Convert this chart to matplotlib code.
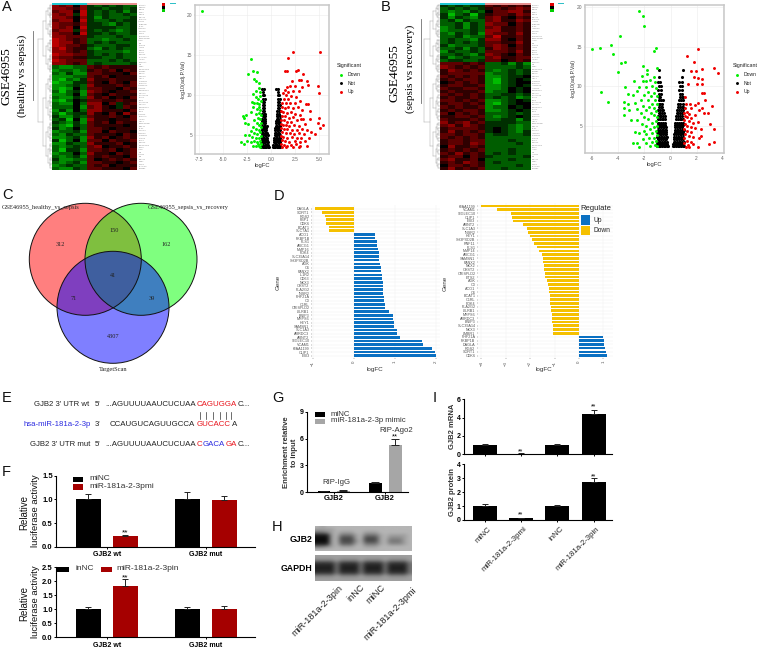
import matplotlib
matplotlib.use('Agg')
import matplotlib.pyplot as plt
import numpy as np
from matplotlib.colors import LinearSegmentedColormap
from matplotlib.patches import Circle, Rectangle

W, H = 760, 650
plt.rcParams['font.family'] = ['Liberation Sans', 'DejaVu Sans']

# heatmaps, one digit per cell: 0 bright green, 4 black, 8 bright red
heat_a = [
    "767473232322", "776573323323", "677483232313", "767383232232", "776473132223",
    "677483223233", "766573321323", "767483333223", "677373232123", "766483323223",
    "776663222322", "876562212232", "877562323222", "876653222332", "786552132322",
    "776563222212", "877663232322", "766553322322", "876662223232", "776562322223",
    "211226565555", "122125656465", "213116655546", "111226564555", "102137556555",
    "011336546546", "112327555656", "101426655465", "202317654556", "112416546555",
    "211327564546", "102436655655", "211427746356", "222416754365", "131427755546",
    "202337546475", "311326556546", "230417554556", "321316564655", "210326555545",
    "312426654555", "122316646554", "213226555465", "112317564565", "302416646556",
    "113227555645", "212326745565", "203316656456", "122427554656", "212316565546",
    "311226456565", "212316655456", "123226564555", "211326655546",
]
heat_b = [
    "323233656565", "232323565676", "212132466775", "302303566576", "313213675465",
    "231322675576", "223132766465", "123132675565", "122232775565", "213231766575",
    "223122685565", "232213775465", "232323665575", "312223676465", "223132576565",
    "132232666575", "223213765465", "312322675566", "233223664565",
    "666565223131", "765656222232", "576565212323", "566666122323", "656565112334",
    "565665102343", "456565102344", "566556112343", "655665112434", "565556122434",
    "656565223323", "565565232312", "665656112343", "566565102344", "656556122434",
    "565665112343", "646565222323", "556656212343", "655565223313",
    "756756333322", "675765333212", "566665343212", "575656343213", "665665233223",
    "656565222222", "566566222322", "566576222232", "475565222222", "565656222322",
    "657565232322", "566465322223", "675564222322", "565765232222", "466565222232",
    "575656223222",
]
heat_split = [5, 6]

# volcano A: (logFC, -log10 adj.P.Val)
a_down = [(-7.11, 20.5), (-2.07, 14.5), (-2.42, 12.7), (-1.9, 13), (-1.48, 12.9), (-1.73, 12),
          (-1.59, 11.8), (-1.2, 11.6), (-1.55, 10.6), (-1.3, 10.9), (-1.1, 10.4), (-1.9, 10.2),
          (-1.6, 9.8), (-1.35, 9.6), (-1.15, 9.9), (-2.0, 9.2), (-1.75, 9.0), (-1.45, 9.1),
          (-1.2, 8.9), (-1.05, 9.3), (-1.85, 8.5), (-1.5, 8.3), (-1.3, 8.5), (-1.1, 8.2),
          (-2.05, 7.9), (-1.6, 7.7), (-1.25, 7.8), (-1.05, 7.6), (-2.9, 7.4), (-2.85, 7.2),
          (-2.6, 7.5), (-1.4, 7.2), (-1.15, 7.0), (-1.75, 6.9), (-1.05, 6.6), (-2.7, 6.6),
          (-2.35, 6.4), (-1.5, 6.5), (-1.25, 6.3), (-1.0, 6.1), (-1.9, 6.0), (-1.6, 5.8),
          (-1.3, 5.6), (-1.1, 5.4), (-1.45, 5.1), (-1.75, 5.3), (-2.1, 5.5), (-1.05, 4.9),
          (-1.3, 4.7), (-1.6, 4.6), (-2.0, 4.8), (-2.3, 5.0), (-2.7, 5.0), (-1.15, 4.3),
          (-1.45, 4.2), (-1.8, 4.3), (-2.1, 4.1), (-3.1, 4.2), (-2.8, 3.9), (-2.5, 4.3),
          (-1.05, 3.9), (-1.3, 3.6), (-1.6, 3.7), (-1.1, 3.5), (-1.4, 3.9), (-1.85, 3.6)]
a_up = [(2.24, 15.4), (5.07, 15.4), (1.73, 14.7), (1.62, 13), (1.45, 13), (2.55, 13.1), (2.83, 13.2),
        (3.35, 12.7), (2.14, 11.8), (2.9, 11.9), (3.1, 11.9), (3.7, 11.8), (4.9, 11.2), (5.0, 10.3),
        (3.87, 11.3), (2.5, 11.2), (1.95, 11.2), (3.2, 11), (1.6, 11), (1.4, 10.7), (1.8, 10.4),
        (2.3, 10.6), (2.9, 10.5), (1.2, 10.3), (1.5, 10), (2.1, 9.9), (1.3, 9.6), (1.75, 9.5),
        (2.6, 9.8), (3.0, 9.3), (1.15, 9.1), (1.55, 9), (2.0, 9.1), (2.45, 9), (3.87, 8.9), (3.65, 8.9),
        (1.1, 8.6), (1.4, 8.4), (1.8, 8.5), (2.25, 8.4), (2.8, 8.6), (3.2, 8.2), (4.0, 8), (1.05, 8),
        (1.25, 7.9), (1.65, 7.8), (2.05, 7.9), (2.5, 7.7), (1.1, 7.4), (1.45, 7.4), (1.85, 7.2),
        (2.3, 7.3), (3.0, 7.5), (5.0, 7.2), (1.05, 6.9), (1.3, 6.9), (1.65, 6.7), (2.1, 6.7),
        (2.65, 6.9), (3.1, 7), (3.3, 7.1), (4.04, 7), (4.83, 6.6), (1.0, 6.4), (1.2, 6.3), (1.5, 6.3),
        (1.9, 6.2), (2.4, 6.3), (2.9, 6.2), (3.5, 6.4), (5.42, 6.25), (5.07, 5.9), (1.05, 5.9),
        (1.35, 5.8), (1.7, 5.8), (2.15, 5.7), (2.65, 5.6), (3.2, 5.8), (3.75, 5.7), (1.1, 5.4),
        (1.5, 5.3), (1.95, 5.3), (2.4, 5.2), (2.9, 5.3), (3.4, 5.2), (4.1, 5.4), (4.5, 5.2), (1.0, 4.9),
        (1.25, 4.8), (1.7, 4.7), (2.2, 4.8), (2.7, 4.7), (3.15, 4.6), (3.9, 4.7), (1.1, 4.4), (1.45, 4.3),
        (1.9, 4.2), (2.45, 4.3), (2.95, 4.2), (3.5, 4.3), (1.0, 3.9), (1.3, 3.8), (1.65, 3.7), (2.1, 3.8),
        (2.6, 3.9), (3.0, 3.6), (3.75, 3.6), (1.15, 3.5), (1.55, 3.5), (2.25, 3.5), (2.85, 3.5)]
# black cloud, x values per -log10 level
a_not = {
    3.5: [-1.0, -.87, -.74, -.61, -.48, -.36, -.24, .2, .32, .45, .58, .71, .84, .97],
    3.8: [-.97, -.82, -.68, -.54, -.42, -.29, .25, .38, .51, .65, .78, .92],
    4.1: [-1.0, -.86, -.72, -.58, -.45, -.32, .28, .41, .55, .69, .83, .97],
    4.4: [-.95, -.8, -.66, -.52, -.38, .31, .45, .6, .74, .88],
    4.7: [-.98, -.84, -.7, -.56, -.42, .34, .48, .63, .78, .94],
    5.0: [-.94, -.8, -.65, -.5, -.37, .36, .51, .66, .81, .96],
    5.3: [-.97, -.83, -.68, -.53, -.4, .4, .55, .7, .85],
    5.6: [-.92, -.78, -.63, -.48, .42, .57, .72, .88],
    5.9: [-.95, -.8, -.66, -.5, .44, .6, .75, .93],
    6.2: [-.9, -.76, -.61, -.47, .5, .65, .8, .97],
    6.5: [-.93, -.78, -.63, .52, .67, .83],
    6.8: [-.9, -.74, -.58, .55, .7, .88],
    7.1: [-.92, -.77, -.62, .58, .74, .93],
    7.4: [-.88, -.72, -.58, .6, .76, .9],
    7.7: [-.9, -.75, -.62, .62, .79],
    8.0: [-.86, -.71, .65, .82, .97],
    8.4: [-.88, -.73, .68, .85],
    8.8: [-.85, -.7, .7, .88],
    9.2: [-.87, -.72, .72, .85],
    9.6: [-.82, -.68, .74, .9],
    10.0: [-.85, -.73, .72, .82],
    10.4: [-.8, .76],
    10.8: [-.95, -.78, .5, .75],
}

# volcano B
b_down = [(-2.4, 19.45), (-2.1, 18.9), (-2.02, 17.65), (-3.84, 16.3), (-4.53, 15.2), (-5.4, 14.8),
          (-6.04, 14.7), (-4.45, 14), (-1.13, 14.8), (-1.28, 14.5), (-3.5, 13.1), (-3.8, 12.9),
          (-2.15, 12.6), (-4, 11.8), (-1.07, 12.3), (-1.8, 12), (-1.84, 11.5), (-2.2, 11.3),
          (-1.28, 11.2), (-2.8, 10.6), (-2.1, 10.6), (-1.85, 10.7), (-3.5, 9.9), (-5.37, 9.25),
          (-3.3, 8.95), (-4.8, 8), (-3.55, 8), (-3.25, 7.7), (-3.6, 7.2), (-3.2, 7), (-3.55, 6.3),
          (-3, 5.7), (-2.75, 4.2), (-2.4, 4.1), (-2.55, 2.8), (-2.85, 2.85), (-2.4, 2.3),
          (-1.6, 10.8), (-1.2, 10.5), (-2.4, 9.9), (-1.9, 9.9), (-1.4, 10), (-1.1, 9.8), (-2.6, 9.4),
          (-1.7, 9.3), (-1.25, 9.2), (-2.9, 8.9), (-2.0, 8.9), (-1.5, 8.8), (-1.05, 8.7), (-2.3, 8.3),
          (-1.75, 8.3), (-1.2, 8.2), (-2.7, 7.9), (-1.45, 7.8), (-1.05, 7.7), (-2.1, 7.5), (-1.65, 7.4),
          (-1.25, 7.3), (-2.55, 7.1), (-1.9, 7), (-1.1, 6.9), (-2.25, 6.6), (-1.5, 6.6), (-1.3, 6.3),
          (-1.05, 6.1), (-2.0, 6.1), (-2.6, 5.7), (-1.7, 5.8), (-1.15, 5.6), (-1.45, 5.4), (-2.2, 5.2),
          (-1.85, 5), (-1.05, 5), (-1.3, 4.8), (-1.6, 4.6), (-2.05, 4.4), (-1.15, 4.3), (-1.45, 4.1),
          (-1.85, 3.9), (-1.05, 3.8), (-1.3, 3.5), (-1.65, 3.4), (-2.1, 3.3), (-1.1, 3.1), (-1.45, 2.9),
          (-1.85, 2.8), (-1.2, 2.6), (-1.6, 2.4), (-1.05, 2.4)]
b_up = [(1.3, 13.75), (2.12, 14.65), (1.82, 13), (2.45, 12.2), (3.35, 12.3), (3.66, 11.6), (1.6, 11.9),
        (1.95, 11.9), (1.8, 11.1), (2.1, 11), (2.4, 10.9), (1.35, 10.3), (2, 10.3), (2.45, 10.3),
        (2.4, 9.1), (2.55, 9.1), (1.1, 8.65), (2.63, 8.2), (3.2, 7.5), (2.4, 7.3), (2.9, 6.55), (3, 5.2),
        (3.3, 4.65), (3.35, 2.9), (2.95, 2.7), (2.1, 2.35), (2.2, 3.4), (1.5, 7.8), (1.2, 7.8), (1.85, 7.6),
        (2.1, 7.9), (1.1, 7.3), (1.6, 7.2), (2.2, 7), (1.25, 6.8), (1.05, 6.6), (1.45, 6.5), (1.85, 6.4),
        (2.55, 6.6), (1.1, 6.2), (1.3, 6.1), (1.6, 6), (1.05, 5.7), (1.4, 5.6), (1.7, 5.4), (2.1, 5.5),
        (1.1, 5.2), (1.3, 5), (1.55, 4.9), (1.9, 4.7), (2.35, 4.6), (1.05, 4.6), (1.25, 4.3), (1.6, 4.2),
        (1.1, 4), (1.4, 3.7), (1.75, 3.6), (2.35, 3.7), (1.05, 3.4), (1.3, 3.1), (1.55, 3), (1.05, 2.8),
        (1.35, 2.6), (1.7, 2.7), (1.15, 2.35), (1.45, 2.3)]
b_not = {
    2.4: [-1.05, -.92, -.79, -.66, -.53, -.4, -.28, -.17, .18, .3, .42, .55, .68, .81, .94, 1.02],
    2.7: [-1.0, -.87, -.74, -.61, -.48, -.36, -.24, .22, .34, .47, .6, .73, .86, .98],
    3.0: [-1.04, -.91, -.78, -.65, -.52, -.39, -.27, .25, .37, .5, .63, .76, .89, 1.0],
    3.3: [-.98, -.85, -.72, -.59, -.46, -.33, .27, .4, .53, .66, .79, .92],
    3.6: [-1.02, -.89, -.76, -.63, -.5, -.37, -.28, .28, .42, .55, .68, .81, .95],
    3.9: [-.97, -.84, -.71, -.58, -.45, -.32, .3, .44, .57, .7, .83, .97],
    4.2: [-1.0, -.87, -.74, -.61, -.48, -.35, .31, .45, .59, .72, .86, .99],
    4.5: [-.95, -.82, -.69, -.56, -.43, -.31, .33, .47, .61, .75, .89, 1.0],
    4.8: [-.99, -.86, -.73, -.6, -.47, -.34, .34, .48, .62, .76, .9],
    5.1: [-.94, -.81, -.68, -.55, -.42, .36, .5, .64, .78, .93],
    5.4: [-.98, -.85, -.72, -.59, -.46, .37, .52, .66, .8, .96],
    5.8: [-.93, -.8, -.67, -.54, -.41, .4, .55, .69, .84, .98],
    6.2: [-.96, -.83, -.7, -.57, -.44, .43, .58, .72, .87],
    6.6: [-.92, -.79, -.66, -.53, .46, .6, .75, .9, .99],
    7.0: [-.95, -.82, -.68, -.54, .5, .65, .8, .95],
    7.4: [-.9, -.76, -.62, .55, .7, .85, .98],
    7.8: [-.92, -.78, -.64, .6, .75, .92],
    8.2: [-.88, -.74, -.6, .65, .8, .97],
    8.6: [-.9, -.78, .7, .85, .95],
    9.0: [-.85, -.72, .7, .88],
    9.5: [-.95, -.75, .68, .85],
    10.0: [-.85, -.7, .7, .9],
    10.5: [-.95, -.8, .65, .85],
    11.2: [-.85, .9],
    12.0: [-.88, .95],
}

# venn counts
venn_counts = ["312", "150", "162", "41", "71", "39", "4307"]
venn_names = ["GSE46955_healthy_vs_sepsis", "GSE46955_sepsis_vs_recovery", "TargetScan"]

# gene bars, top to bottom
genes_left = ["DAGLA", "SORT1", "RGS2", "FBP1", "CDK6", "BCAT1", "SLC7A1", "ACO1", "FKBP1B", "PLS1",
              "ABCG1", "MMP16", "PDK4", "SLC39A14", "SH3PXD2B", "AGK", "C6", "PANX2", "IL1R2", "CD63",
              "NKX3", "CHST2", "PLA2G2", "INSR2", "PHF21A", "C3", "C1RL", "CRISPLD2", "LILRB1",
              "BNIP3", "MRPS6", "HEY1", "SAMSN1", "SLC1A3", "ARRDC3", "ARNT2", "SIGLEC10", "VCAM1",
              "KIAA1199", "CLIP1", "EBI3"]
fc_left = [-0.96, -0.78, -0.70, -0.69, -0.68, -0.61, -0.61,
           0.52, 0.52, 0.55, 0.57, 0.58, 0.61, 0.61, 0.62, 0.63, 0.65, 0.65, 0.68, 0.69, 0.70,
           0.70, 0.71, 0.72, 0.73, 0.74, 0.75, 0.76, 0.86, 0.94, 0.95, 0.97, 0.98, 1.04, 1.06,
           1.12, 1.65, 1.68, 1.90, 1.98, 2.01]
genes_right = ["KIAA1199", "VCAM1", "SIGLEC10", "CLIP1", "EBI3", "ARNT2", "SLC1A3", "INSR2", "HEY1",
               "SH3PXD2B", "RNF11", "PLS1", "MMP14", "ABCG1", "SAMSN1", "PANX2", "NKX2", "CHST2",
               "CRISPLD2", "ETS2", "AGK", "C3", "ACO1", "C6", "BCAT1", "C1RL", "PDK4", "PLA2G2",
               "LILRB1", "MRPS6", "ARRDC3", "BNIP3", "SLC39A14", "NKX3", "LMBR1", "PHF21A", "FKBP1B",
               "DAGLA", "RGS2", "SORT1", "CDK6"]
fc_right = [-4.0, -3.37, -2.79, -2.75, -2.69, -2.3, -2.12, -2.09, -2.0, -1.91, -1.84, -1.73, -1.64,
            -1.52, -1.46, -1.46, -1.45, -1.43, -1.41, -1.39, -1.32, -1.28, -1.25, -1.22, -1.19, -1.18,
            -1.18, -1.17, -1.13, -1.12, -1.11, -1.11, -1.08, -1.07, -1.05,
            1.0, 1.02, 1.02, 1.07, 1.09, 1.13]

# luciferase F
f_groups = ["GJB2 wt", "GJB2 mut"]
f_top = [1.0, 0.22, 1.0, 0.99]
f_top_err = [0.11, 0.03, 0.15, 0.09]
f_bottom = [1.0, 1.84, 1.0, 1.02]
f_bottom_err = [0.1, 0.23, 0.1, 0.09]

# RIP G
g_values = [0.1, 0.2, 1.0, 5.3]
g_err = [0.03, 0.05, 0.15, 0.6]

# western blots H, digit is grey level 0 dark to 9 light
blot_gjb2 = [
    "87888888888888888888", "77778888888888888888", "55678777887778888888",
    "11178555785557877778", "00078333783337866678", "00078333683337855578",
    "11178444785557866678", "55678777887778888888", "88888888888888888888",
]
blot_gapdh = [
    "77777777777777777777", "66667666676666766667", "22225222252222522225", "11115111151111511115",
    "11115111151111511115", "22225222252222522225", "66667666676666766667", "77777777777777777777",
]
h_labels = ["miR-181a-2-3pin", "inNC", "miNC", "miR-181a-2-3pmi"]

# qPCR / protein I
i_labels = ["miNC", "miR-181a-2-3pmi", "inNC", "miR-181a-2-3pin"]
i_mrna = [1.0, 0.08, 0.98, 4.36]
i_mrna_err = [0.1, 0.03, 0.1, 0.44]
i_protein = [1.0, 0.12, 1.0, 2.73]
i_protein_err = [0.15, 0.03, 0.07, 0.27]

fig = plt.figure(figsize=(W / 100, H / 100), dpi=100)
ov = fig.add_axes([0, 0, 1, 1], zorder=10)
ov.set_xlim(0, W)
ov.set_ylim(H, 0)
ov.axis('off')
ov.patch.set_alpha(0)


def add_px(x0, y0, x1, y1):
    return fig.add_axes([x0 / W, 1 - y1 / H, (x1 - x0) / W, (y1 - y0) / H])


def tree(y0, y1, x, xend, depth):
    # rough dendrogram, split a row range in two until it gets small
    if depth == 0:
        ov.plot([x, xend], [(y0 + y1) / 2] * 2, color='#9a9a9a', lw=0.25)
        return
    ym = y0 + (y1 - y0) * (0.5 if depth % 2 else 0.42)
    a, b = (y0 + ym) / 2, (ym + y1) / 2
    xn = x + (xend - x) * 0.35
    ov.plot([x, x], [a, b], color='#9a9a9a', lw=0.3)
    ov.plot([x, xn], [a, a], color='#9a9a9a', lw=0.3)
    ov.plot([x, xn], [b, b], color='#9a9a9a', lw=0.3)
    tree(y0, ym, xn, xend, depth - 1)
    tree(ym, y1, xn, xend, depth - 1)


heat_cmap = LinearSegmentedColormap.from_list('gbr', ['#00ff00', '#000000', '#ff0000'])


def heatmap(rows, box, split, tree_x, names_x, line_x, line_y):
    x0, y0, x1, y1 = box
    ax = add_px(x0, y0, x1, y1)
    grid = np.array([[int(c) for c in r] for r in rows])
    ax.imshow(grid, cmap=heat_cmap, vmin=-1.5, vmax=9.5, aspect='auto', interpolation='nearest')
    ax.axis('off')
    xs = x0 + (x1 - x0) * split / grid.shape[1]
    ov.add_patch(Rectangle((x0, y0 - 1), xs - x0, 1.5, color='#20c8d0', lw=0))
    ov.add_patch(Rectangle((xs, y0 - 1), x1 - xs, 1.5, color='#e89090', lw=0))
    tree(y0, y1, tree_x, x0, 6)
    ov.plot([line_x, line_x], line_y, color='#707070', lw=0.6)
    all_genes = genes_left + genes_right
    for k in range(70):
        ov.text(names_x, y0 + (y1 - y0) * (k + 0.5) / 70, all_genes[k % len(all_genes)],
                fontsize=1.6, color='#8c8c8c', va='center', ha='left')


heatmap(heat_a, (52, 4, 137, 170), heat_split[0], 38, 138.5, 33, (31, 100))
heatmap(heat_b, (440, 4, 530.7, 170), heat_split[1], 424, 532, 420.7, (19, 103))

# small colour keys of the heatmaps
for kx, ky in [(161.5, 3), (550, 3)]:
    ov.add_patch(Rectangle((kx, ky), 3.5, 3, color='#e00000', lw=0))
    ov.add_patch(Rectangle((kx, ky + 3), 3.5, 3, color='#000000', lw=0))
    ov.add_patch(Rectangle((kx, ky + 6), 3.5, 3, color='#00d000', lw=0))
    ov.add_patch(Rectangle((kx + 8, ky), 6, 1, color='#30c0c8', lw=0))


def volcano(box, xlim, ylim, xticks, xtick_labels, down, up, notsig):
    ax = add_px(*box)
    ax.set_xlim(*xlim)
    ax.set_ylim(*ylim)
    nx = [x for y, xs in notsig.items() for x in xs]
    ny = [y for y, xs in notsig.items() for x in xs]
    ax.scatter(nx, ny, s=5, color='black', lw=0, zorder=3)
    ax.scatter(*zip(*down), s=4.5, color='#00ee00', lw=0, zorder=3)
    ax.scatter(*zip(*up), s=4.5, color='#f00000', lw=0, zorder=3)
    ax.set_xticks(xticks)
    ax.set_xticklabels(xtick_labels)
    ax.set_yticks([5, 10, 15, 20])
    ax.grid(color='#ececec', lw=0.4)
    ax.set_axisbelow(True)
    ax.tick_params(labelsize=3.5, length=1, width=0.3, pad=1, colors='#666666')
    ax.set_xlabel('logFC', fontsize=4.2, labelpad=1, color='#333333')
    ax.set_ylabel('-log10(adj.P.Val)', fontsize=3.8, labelpad=1, color='#333333')
    for s in ax.spines.values():
        s.set_color('#c8c8c8')
        s.set_linewidth(1.1)
    return ax


volcano((195, 5, 329, 154), (-7.88, 6.0), (2.66, 21.3), [-7.5, -5, -2.5, 0, 2.5, 5],
        ['-7.5', '-5.0', '-2.5', '0.0', '2.5', '5.0'], a_down, a_up, a_not)
volcano((585, 5, 724, 153), (-6.56, 4.1), (1.56, 20.25), [-6, -4, -2, 0, 2, 4],
        ['-6', '-4', '-2', '0', '2', '4'], b_down, b_up, b_not)

for lx in [337, 733]:
    ov.text(lx, 66, 'Significant', fontsize=3.9, va='center', color='#222222')
    for yy, name, col in [(75, 'Down', '#00ee00'), (83.3, 'Not', 'black'), (91.7, 'Up', '#f00000')]:
        ov.scatter([lx + 4], [yy], s=4.5, color=col, lw=0)
        ov.text(lx + 10.5, yy, name, fontsize=3.6, va='center', color='#222222')

# side titles
serif = ['Liberation Serif', 'DejaVu Serif']
ov.text(7, 76, 'GSE46955', fontsize=9.5, rotation=90, family=serif, ha='center', va='center')
ov.text(22, 76, '(healthy vs sepsis)', fontsize=8, rotation=90, family=serif, ha='center', va='center')
ov.text(395, 73, 'GSE46955', fontsize=9.5, rotation=90, family=serif, ha='center', va='center')
ov.text(410, 69, '(sepsis vs recovery)', fontsize=8, rotation=90, family=serif, ha='center', va='center')

# venn
r = 56
for (cx, cy), col in [((85.3, 259.3), '#ff0000'), ((141, 259.3), '#00ff00'), ((113, 307.3), '#0000ff')]:
    ov.add_patch(Circle((cx, cy), r, facecolor=col, alpha=0.5, lw=0))
for (cx, cy) in [(85.3, 259.3), (141, 259.3), (113, 307.3)]:
    ov.add_patch(Circle((cx, cy), r, fill=False, edgecolor='#111111', lw=0.7))
venn_pos = [(60, 245), (113.7, 230.7), (166, 245), (113, 275.7), (74, 298), (152, 298), (113, 336.7)]
for (tx, ty), lab in zip(venn_pos, venn_counts):
    ov.text(tx, ty, lab, fontsize=4.5, family=serif, ha='center', va='center', color='#222222')
ov.text(2, 207.7, venn_names[0], fontsize=4.6, family=serif, va='center', color='#222222')
ov.text(148, 207.7, venn_names[1], fontsize=4.6, family=serif, va='center', color='#222222')
ov.text(113, 369.7, venn_names[2], fontsize=4.6, family=serif, ha='center', va='center', color='#222222')


def gene_bars(box, genes, fc, xlim, xticks, top_px, row_px):
    ax = add_px(*box)
    pos = np.arange(len(genes))
    cols = ['#0a70c2' if v > 0 else '#f5c000' for v in fc]
    ax.barh(pos, fc, height=0.72, color=cols, lw=0, zorder=3)
    ax.set_xlim(*xlim)
    # y limits so that the first row lands on top_px
    ax.set_ylim((box[3] - top_px) / row_px, (box[1] - top_px) / row_px)
    ax.set_yticks(pos)
    ax.set_yticklabels(genes)
    ax.set_xticks(xticks)
    ax.set_xticklabels([str(t).replace('-', '\u2212') for t in xticks], rotation=90)
    ax.tick_params(axis='y', labelsize=2.7, length=1, width=0.3, pad=0.8, colors='#555555')
    ax.tick_params(axis='x', labelsize=3.2, length=1, width=0.3, pad=1, colors='#555555')
    ax.grid(color='#f0f0f0', lw=0.35)
    ax.set_axisbelow(True)
    for s in ax.spines.values():
        s.set_visible(False)
    return ax


gene_bars((312, 205, 440, 358), genes_left, fc_left, (-1.0259, 2.1), [-1, 0, 1, 2], 208.7, 3.675)
gene_bars((478, 203, 613, 358), genes_right, fc_right, (-4.14, 1.39), [-4, -3, -2, -1, 0, 1], 206, 3.74)
ov.text(375, 369, 'logFC', fontsize=4.5, ha='center', va='center', color='#333333')
ov.text(544, 369, 'logFC', fontsize=4.5, ha='center', va='center', color='#333333')
ov.text(278, 282, 'Gene', fontsize=4.5, rotation=90, ha='center', va='center', color='#333333')
ov.text(445, 283, 'Gene', fontsize=4.5, rotation=90, ha='center', va='center', color='#333333')
ov.text(580, 208, 'Regulate', fontsize=5.5, va='center', color='#222222')
ov.add_patch(Rectangle((580.7, 215.3), 9.3, 9.4, color='#0a70c2', lw=0))
ov.add_patch(Rectangle((580.7, 226), 9.3, 9.4, color='#f5c000', lw=0))
ov.text(594, 220, 'Up', fontsize=4.8, va='center', color='#222222')
ov.text(594, 230.7, 'Down', fontsize=4.8, va='center', color='#222222')

# panel E, sequence alignment pieces
seq_size = 5.7
dark = '#222222'
ov.text(89, 405, "GJB2 3' UTR wt", fontsize=5.6, ha='right', va='center', color=dark)
ov.text(95, 405, "5'", fontsize=5.6, va='center', color=dark)
ov.text(105, 405, '...AGUUUUAAUCUCUAA', fontsize=seq_size, va='center', color=dark)
ov.text(197, 405, 'CAGUGGA', fontsize=seq_size, va='center', color='#e8141c')
ov.text(238, 405, 'C...', fontsize=seq_size, va='center', color=dark)
ov.text(90.7, 424.7, 'hsa-miR-181a-2-3p', fontsize=5.6, ha='right', va='center', color='#2a2ae0')
ov.text(94.3, 424.7, "3'", fontsize=5.6, va='center', color=dark)
ov.text(110, 424.7, 'CCAUGUCAGUUGCCA', fontsize=seq_size, va='center', color=dark)
ov.text(196.7, 424.7, 'GUCACC', fontsize=seq_size, va='center', color='#e8141c')
ov.text(232, 424.7, 'A', fontsize=seq_size, va='center', color=dark)
for bx in [199.5, 206, 213, 220, 226, 231]:
    ov.plot([bx, bx], [412, 419], color='#333333', lw=0.5)
ov.text(90, 444, "GJB2 3' UTR mut", fontsize=5.6, ha='right', va='center', color=dark)
ov.text(95, 444, "5'", fontsize=5.6, va='center', color=dark)
ov.text(105, 444, '...AGUUUUAAUCUCUAA', fontsize=seq_size, va='center', color=dark)
ov.text(197, 444, 'C', fontsize=seq_size, va='center', color='#e8141c')
ov.text(202.7, 444, 'GACA', fontsize=seq_size, va='center', color='#2a2ae0')
ov.text(225.5, 444, 'GA', fontsize=seq_size, va='center', color='#e8141c')
ov.text(238, 444, 'C...', fontsize=seq_size, va='center', color=dark)


def bar_panel(box, values, err, cols, xs, width, xlim, ylim, yticks, tick_size=5.5):
    ax = add_px(*box)
    ax.bar(xs, values, width=width, color=cols, lw=0)
    ax.errorbar(xs, values, yerr=[[0] * len(values), err], fmt='none', ecolor='#222222',
                elinewidth=0.7, capsize=2.8 if width > 0.67 else 2.2, capthick=0.7)
    ax.set_xlim(*xlim)
    ax.set_ylim(*ylim)
    ax.set_yticks(yticks)
    ax.spines['top'].set_visible(False)
    ax.spines['right'].set_visible(False)
    ax.spines['left'].set_linewidth(0.8)
    ax.spines['bottom'].set_linewidth(0.8)
    ax.tick_params(labelsize=tick_size, length=1.6, width=0.7, pad=0.7)
    return ax


f_cols = ['black', '#a50000', 'black', '#a50000']
f_xs = [0, 1, 2.68, 3.68]
f_lim = (-0.873, 4.505)
for box, vals, errs, yt, ylim in [((56, 475.7, 255, 546.7), f_top, f_top_err, [0, 0.5, 1, 1.5], (0, 1.5)),
                                  ((56, 567.3, 255, 637.3), f_bottom, f_bottom_err, [0, 0.5, 1, 1.5, 2, 2.5], (0, 2.5))]:
    ax = bar_panel(box, vals, errs, f_cols, f_xs, 0.67, f_lim, ylim, yt)
    ax.set_yticklabels(['%.1f' % t for t in yt], fontweight='bold')
    ax.set_xticks([0.5, 3.18])
    ax.set_xticklabels(f_groups, fontsize=5, fontweight='bold')
    ax.tick_params(axis='x', pad=1.5)
    yc = (box[1] + box[3]) / 2
    ov.text(24, yc + 1, 'Relative', fontsize=7, rotation=90, ha='center', va='center', color='#111111')
    ov.text(35.7, yc - 1, 'luciferase activity', fontsize=6.8, rotation=90, ha='center', va='center', color='#111111')
ov.text(125, 532.5, '**', fontsize=6, ha='center', va='center')
ov.text(125, 578, '**', fontsize=6, ha='center', va='center')
ov.add_patch(Rectangle((73, 476.5), 10, 5.5, color='black', lw=0))
ov.add_patch(Rectangle((73, 484), 10, 5.5, color='#a50000', lw=0))
ov.text(89, 479, 'miNC', fontsize=6, va='center', color='#333333')
ov.text(89, 486.7, 'miR-181a-2-3pmi', fontsize=6, va='center', color='#333333')
ov.add_patch(Rectangle((57, 566.5), 12, 5, color='black', lw=0))
ov.add_patch(Rectangle((100.7, 566.5), 11, 5, color='#a50000', lw=0))
ov.text(75, 569, 'inNC', fontsize=6, va='center', color='#333333')
ov.text(116.7, 569, 'miR-181a-2-3pin', fontsize=6, va='center', color='#333333')

# panel G
g_cols = ['black', '#a6a6a6', 'black', '#a6a6a6']
ax = bar_panel((307.3, 411.7, 407.7, 492.3), g_values, g_err, g_cols, [0, 1, 2.7, 3.75], 0.68,
               (-0.88, 4.4), (0, 9), [0, 3, 6, 9], tick_size=5)
ax.set_xticks([0.5, 3.2])
ax.set_xticklabels(['GJB2', 'GJB2'], fontsize=5.5, fontweight='bold')
ax.set_yticklabels(['0', '3', '6', '9'], fontweight='bold')
ov.text(286, 452.5, 'Enrichment relative', fontsize=5.6, fontweight='bold', rotation=90, ha='center', va='center', color='#333333')
ov.text(295, 452.5, 'to input', fontsize=5.6, fontweight='bold', rotation=90, ha='center', va='center', color='#333333')
ov.add_patch(Rectangle((315, 411.5), 10, 5, color='black', lw=0))
ov.add_patch(Rectangle((315, 418.5), 10, 5, color='#a6a6a6', lw=0))
ov.text(331, 414, 'miNC', fontsize=5.6, va='center', color='#333333')
ov.text(331, 421, 'miR-181a-2-3p mimic', fontsize=5.6, va='center', color='#333333')
ov.text(396, 430, 'RIP-Ago2', fontsize=5.6, ha='center', va='center', color='#333333')
ov.text(395, 437, '**', fontsize=5.5, ha='center', va='center')
ov.text(336, 482, 'RIP-IgG', fontsize=5.6, ha='center', va='center', color='#333333')

# panel H blots
for blot, box in [(blot_gjb2, (315, 525.7, 412, 551)), (blot_gapdh, (315, 555, 412, 580.7))]:
    ax = add_px(*box)
    grid = np.array([[int(c) for c in r] for r in blot])
    ax.imshow(grid, cmap='gray', vmin=-0.5, vmax=11.5, aspect='auto', interpolation='bicubic')
    ax.axis('off')
ov.text(312.7, 540, 'GJB2', fontsize=6.3, fontweight='bold', ha='right', va='center')
ov.text(312.7, 568.3, 'GAPDH', fontsize=6.3, fontweight='bold', ha='right', va='center')
for (tx, ty), lab in zip([(338, 583), (360, 583), (381, 583), (412, 586)], h_labels):
    ov.text(tx, ty, lab, fontsize=6.6, rotation=45, ha='right', va='top', rotation_mode='anchor', color='#222222')

# panel I
i_xs = [0, 1, 2, 3]
ax = bar_panel((464, 399.3, 611.7, 454.3), i_mrna, i_mrna_err, ['black'] * 4, i_xs, 0.66,
               (-0.57, 3.5), (0, 6), [0, 2, 4, 6], tick_size=5)
ax.set_xticks(i_xs)
ax.set_xticklabels([])
ax.set_yticklabels(['0', '2', '4', '6'], fontweight='bold')
ax = bar_panel((464, 464.3, 611.7, 520), i_protein, i_protein_err, ['black'] * 4, i_xs, 0.66,
               (-0.57, 3.5), (0, 4), [0, 1, 2, 3, 4], tick_size=5)
ax.set_xticks(i_xs)
ax.set_xticklabels([])
ax.set_yticklabels(['0', '1', '2', '3', '4'], fontweight='bold')
ov.text(452, 426.7, 'GJB2 mRNA', fontsize=5.5, fontweight='bold', rotation=90, ha='center', va='center', color='#333333')
ov.text(452, 491.7, 'GJB2 protein', fontsize=5.5, fontweight='bold', rotation=90, ha='center', va='center', color='#333333')
for (tx, ty), lab in zip([(487.5, 525.5), (524, 525.5), (560, 525.5), (596, 525.5)], i_labels):
    ov.text(tx, ty, lab, fontsize=5.7, rotation=45, ha='right', va='top', rotation_mode='anchor', color='#222222')
for tx, ty in [(521, 451.5), (593.3, 407), (521, 514.5), (593.3, 477)]:
    ov.text(tx, ty, '**', fontsize=5, ha='center', va='center')

# panel letters
for lab, lx, ly in [('A', 2, 7), ('B', 381, 7), ('C', 2, 195), ('D', 274, 196), ('E', 2, 398),
                    ('F', 2, 472), ('G', 272, 398), ('H', 272, 527), ('I', 433, 398)]:
    ov.text(lx, ly, lab, fontsize=10.5, va='center', color='#111111')

fig.savefig('out.png', dpi=100)
